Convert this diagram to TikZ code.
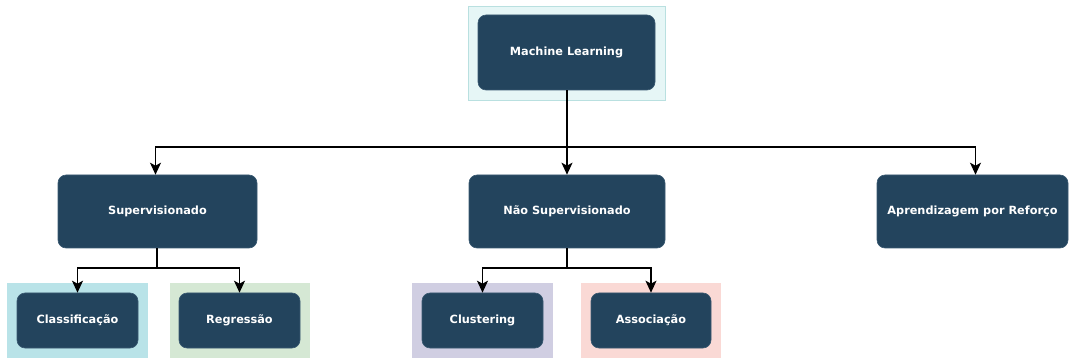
\documentclass[tikz,border=0pt]{standalone}
\usepackage{fontspec}
\setmainfont{DejaVu Sans}
\usetikzlibrary{arrows.meta}
\definecolor{nodefill}{HTML}{23445D}
\definecolor{nodeedge}{HTML}{3A5A72}
\definecolor{bgcyan}{HTML}{B9E3E8}
\definecolor{bglight}{HTML}{E6F6F6}
\definecolor{bglightedge}{HTML}{B9E0E0}
\definecolor{bggreen}{HTML}{D5E8D4}
\definecolor{bgpurple}{HTML}{D0CEE2}
\definecolor{bgpink}{HTML}{FAD9D5}
\tikzset{
  box/.style={draw=nodeedge, line width=0.6pt, fill=nodefill, rounded corners=8pt,
    text=white, font=\bfseries\fontsize{11.3}{13}\selectfont, inner sep=0pt, anchor=center},
  backdrop/.style={inner sep=0pt, anchor=center},
  link/.style={line width=1.6pt, draw=black},
  arrowlink/.style={link, -{Stealth[length=12pt,width=11pt,inset=3pt]}}
}
\begin{document}
\begin{tikzpicture}[x=1pt,y=-1pt]
\useasboundingbox (0,0) rectangle (1069,358);
% colored backdrops
\node[backdrop, draw=bglightedge, fill=bglight, minimum width=197pt, minimum height=94pt] (mlbg) at (566.5,53) {};
\node[backdrop, fill=bgcyan, minimum width=141pt, minimum height=75pt] (clbg) at (77.5,320.5) {};
\node[backdrop, fill=bggreen, minimum width=140pt, minimum height=75pt] (rgbg) at (240,320.5) {};
\node[backdrop, fill=bgpurple, minimum width=141pt, minimum height=75pt] (csbg) at (482.5,320.5) {};
\node[backdrop, fill=bgpink, minimum width=140pt, minimum height=75pt] (asbg) at (651,320.5) {};
% main boxes
\node[box, minimum width=177pt, minimum height=75pt] (ml) at (566.5,52.5) {Machine Learning};
\node[box, minimum width=199pt, minimum height=73pt] (sup) at (157.5,211.5) {Supervisionado};
\node[box, minimum width=196pt, minimum height=73pt] (nsup) at (567,211.5) {Não Supervisionado};
\node[box, minimum width=191pt, minimum height=73pt] (rl) at (972.5,211.5) {Aprendizagem por Reforço};
\node[box, minimum width=121pt, minimum height=55pt] (cl) at (77.5,320.5) {Classificação};
\node[box, minimum width=121pt, minimum height=55pt] (rg) at (239.5,320.5) {Regressão};
\node[box, minimum width=121pt, minimum height=55pt] (cs) at (482.5,320.5) {Clustering};
\node[box, minimum width=120pt, minimum height=55pt] (as) at (651,320.5) {Associação};
% branch points
\coordinate (mlj) at (567,147);
\coordinate (supj) at (157,268);
\coordinate (nsupj) at (567,268);
% connectors
\draw[link] (ml.south -| mlj) -- (mlj);
\draw[arrowlink] (mlj) -| ([xshift=-2pt]sup.north);
\draw[arrowlink] (mlj) -- (nsup.north -| mlj);
\draw[arrowlink] (mlj) -| ([xshift=3pt]rl.north);
\draw[link] (sup.south -| supj) -- (supj);
\draw[arrowlink] (supj) -| (cl.north);
\draw[arrowlink] (supj) -| (rg.north);
\draw[link] (nsup.south -| nsupj) -- (nsupj);
\draw[arrowlink] (nsupj) -| (cs.north);
\draw[arrowlink] (nsupj) -| (as.north);
\end{tikzpicture}
\end{document}
